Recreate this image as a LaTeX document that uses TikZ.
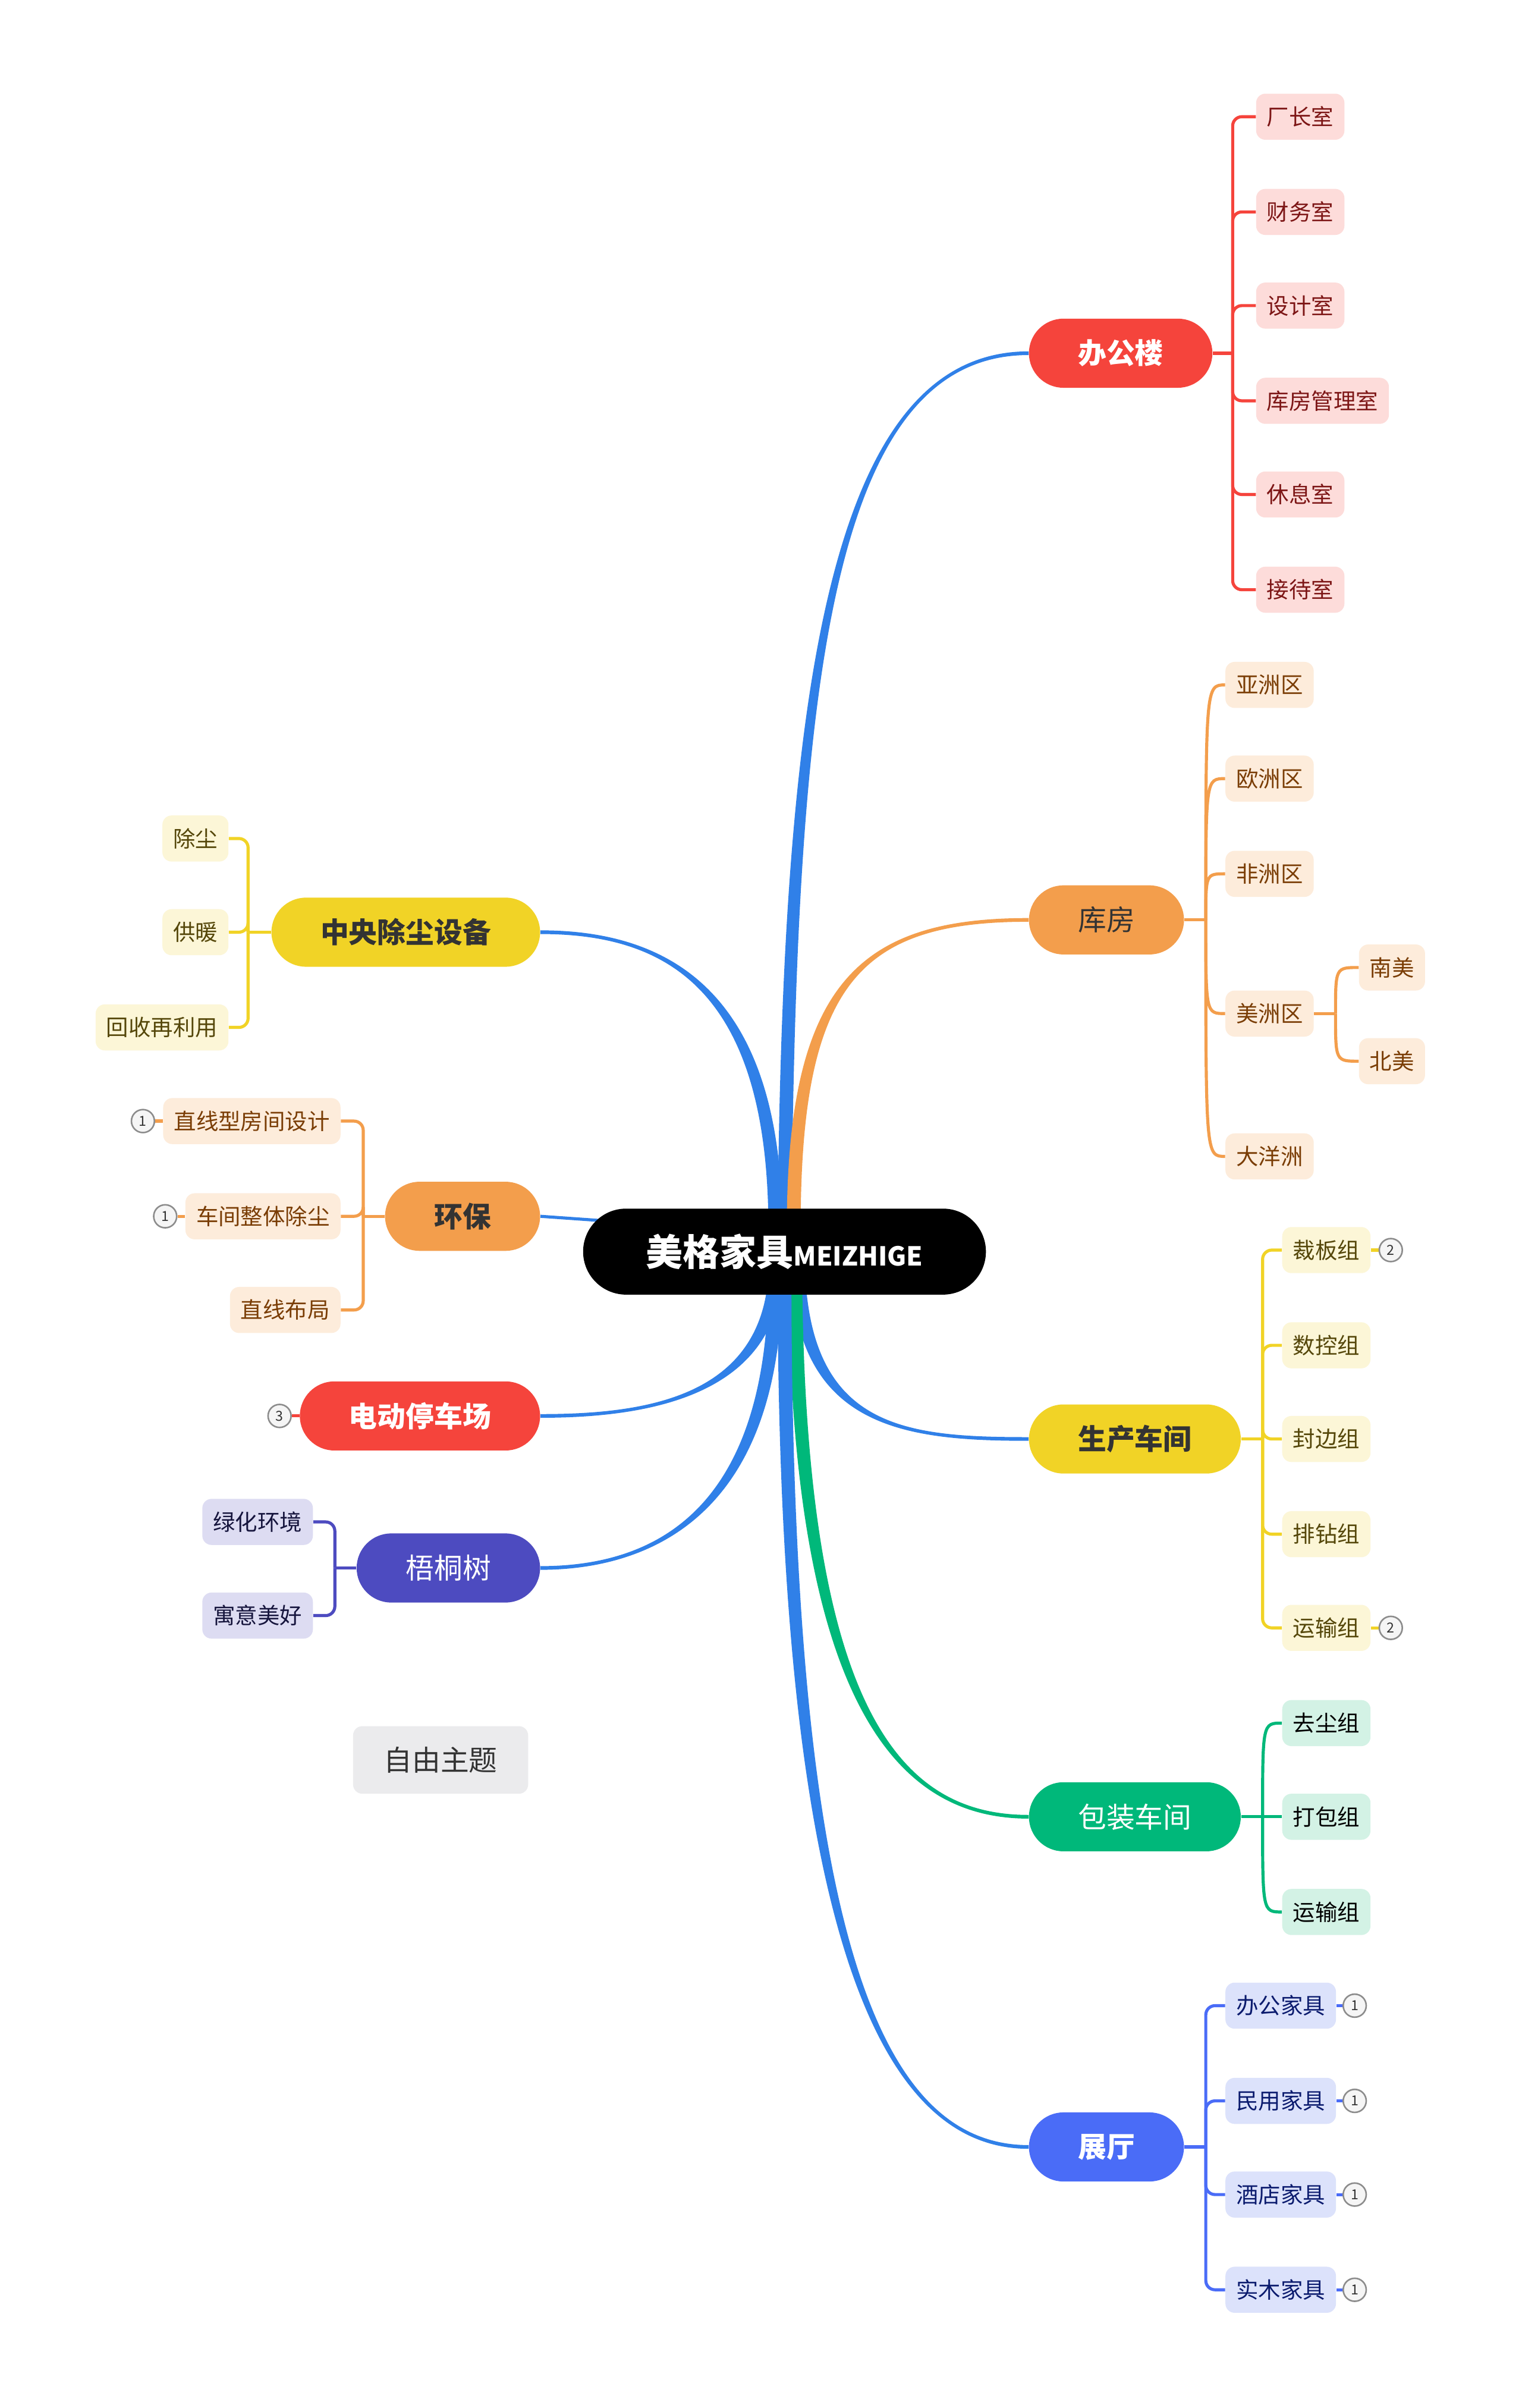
\documentclass[tikz,border=0pt]{standalone}
\usepackage{fontspec}
\setmainfont{Noto Sans CJK SC}
\usetikzlibrary{positioning,calc,backgrounds}

\definecolor{trunkblue}{HTML}{3080E8}
\definecolor{redmain}{HTML}{F5443C}
\definecolor{redleaf}{HTML}{FDDCDA}
\definecolor{redtext}{HTML}{7D1616}
\definecolor{orgmain}{HTML}{F39E4C}
\definecolor{orgleaf}{HTML}{FDECDB}
\definecolor{orgtext}{HTML}{7A3D05}
\definecolor{yelmain}{HTML}{F1D326}
\definecolor{yelleaf}{HTML}{FCF6D7}
\definecolor{yeltext}{HTML}{55470A}
\definecolor{grnmain}{HTML}{00B87A}
\definecolor{grnleaf}{HTML}{D3F2E5}
\definecolor{bluemain}{HTML}{4A6CF7}
\definecolor{blueleaf}{HTML}{DCE2FB}
\definecolor{bluetext}{HTML}{0B1B6E}
\definecolor{indmain}{HTML}{4D4BC0}
\definecolor{indleaf}{HTML}{DDDCF2}
\definecolor{indtext}{HTML}{16153D}
\definecolor{freegray}{HTML}{EBEBED}
\definecolor{darktext}{HTML}{333333}
\definecolor{badgegray}{HTML}{8C8C8C}

\tikzset{
  topic/.style={rounded corners=22.5pt, minimum height=45pt, inner xsep=32pt,
    inner ysep=0pt, font=\fontsize{18.5}{20}\selectfont},
  leaf/.style={rounded corners=6pt, minimum height=30pt, inner xsep=7pt,
    inner ysep=0pt, font=\fontsize{14.5}{16}\selectfont},
  badge/.style={circle, draw=badgegray, fill=white!96!black, line width=1pt,
    minimum size=15pt, inner sep=0pt, text=darktext, font=\fontsize{9}{10}\selectfont},
  link/.style={line width=2pt},
}

% tapered main branch: colour, start, control 1, control 2, end, side sign
\newcommand{\branch}[6]{%
  \fill[#1] ($#2+(-4.5,0)$) .. controls ($#3+(-4.5,0)$) and ($#4+(0,-#6*1.2)$)
    .. ($#5+(0,-#6*1.2)$) -- ($#5+(0,#6*1.2)$) .. controls ($#4+(0,#6*1.2)$)
    and ($#3+(4.5,0)$) .. ($#2+(4.5,0)$) -- cycle;}

\begin{document}
\begin{tikzpicture}[x=1pt,y=-1pt]
  \useasboundingbox (0,0) rectangle (991,1568);

  % centre
  \node[topic, fill=black, text=white, rounded corners=28pt, minimum height=56pt,
    inner xsep=41pt] (root) at (511,815)
    {\bfseries\fontsize{24}{26}\selectfont 美格家具{\fontsize{17}{18}\selectfont MEIZHIGE}};

  % right topics
  \node[topic, fill=redmain, text=white, anchor=west] (bgl) at (670,230) {\bfseries 办公楼};
  \node[topic, fill=orgmain, text=darktext, anchor=west] (kf) at (670,599) {库房};
  \node[topic, fill=yelmain, text=darktext, anchor=west] (sc) at (670,937) {\bfseries 生产车间};
  \node[topic, fill=grnmain, text=white, anchor=west] (bz) at (670,1183) {包装车间};
  \node[topic, fill=bluemain, text=white, anchor=west] (zt) at (670,1398) {\bfseries 展厅};

  % left topics
  \node[topic, fill=yelmain, text=darktext, anchor=east] (zy) at (352,607) {\bfseries 中央除尘设备};
  \node[topic, fill=orgmain, text=darktext, anchor=east] (hb) at (352,792) {\bfseries 环保};
  \node[topic, fill=redmain, text=white, anchor=east] (tc) at (352,922) {\bfseries 电动停车场};
  \node[topic, fill=indmain, text=white, anchor=east] (wt) at (352,1021) {梧桐树};

  \node[topic, fill=freegray, text=darktext, rounded corners=6pt, minimum height=44pt,
    inner xsep=20pt] (free) at (287,1146) {自由主题};

  % office leaves
  \node[leaf, fill=redleaf, text=redtext, anchor=west] (bgl1) at (818,76) {厂长室};
  \node[leaf, fill=redleaf, text=redtext, anchor=west] (bgl2) at (818,138) {财务室};
  \node[leaf, fill=redleaf, text=redtext, anchor=west] (bgl3) at (818,199) {设计室};
  \node[leaf, fill=redleaf, text=redtext, anchor=west] (bgl4) at (818,261) {库房管理室};
  \node[leaf, fill=redleaf, text=redtext, anchor=west] (bgl5) at (818,322) {休息室};
  \node[leaf, fill=redleaf, text=redtext, anchor=west] (bgl6) at (818,384) {接待室};

  % store leaves
  \node[leaf, fill=orgleaf, text=orgtext, anchor=west] (kf1) at (798,446) {亚洲区};
  \node[leaf, fill=orgleaf, text=orgtext, anchor=west] (kf2) at (798,507) {欧洲区};
  \node[leaf, fill=orgleaf, text=orgtext, anchor=west] (kf3) at (798,569) {非洲区};
  \node[leaf, fill=orgleaf, text=orgtext, anchor=west] (kf4) at (798,660) {美洲区};
  \node[leaf, fill=orgleaf, text=orgtext, anchor=west] (kf5) at (798,753) {大洋洲};
  \node[leaf, fill=orgleaf, text=orgtext, anchor=west] (kf41) at (885,630) {南美};
  \node[leaf, fill=orgleaf, text=orgtext, anchor=west] (kf42) at (885,691) {北美};

  % production leaves
  \node[leaf, fill=yelleaf, text=yeltext, anchor=west] (sc1) at (835,814) {裁板组};
  \node[leaf, fill=yelleaf, text=yeltext, anchor=west] (sc2) at (835,876) {数控组};
  \node[leaf, fill=yelleaf, text=yeltext, anchor=west] (sc3) at (835,937) {封边组};
  \node[leaf, fill=yelleaf, text=yeltext, anchor=west] (sc4) at (835,999) {排钻组};
  \node[leaf, fill=yelleaf, text=yeltext, anchor=west] (sc5) at (835,1060) {运输组};
  \node[badge, right=5pt of sc1] (sc1b) {2};
  \node[badge, right=5pt of sc5] (sc5b) {2};

  % packing leaves
  \node[leaf, fill=grnleaf, text=black, anchor=west] (bz1) at (835,1122) {去尘组};
  \node[leaf, fill=grnleaf, text=black, anchor=west] (bz2) at (835,1183) {打包组};
  \node[leaf, fill=grnleaf, text=black, anchor=west] (bz3) at (835,1245) {运输组};

  % showroom leaves
  \node[leaf, fill=blueleaf, text=bluetext, anchor=west] (zt1) at (798,1306) {办公家具};
  \node[leaf, fill=blueleaf, text=bluetext, anchor=west] (zt2) at (798,1368) {民用家具};
  \node[leaf, fill=blueleaf, text=bluetext, anchor=west] (zt3) at (798,1429) {酒店家具};
  \node[leaf, fill=blueleaf, text=bluetext, anchor=west] (zt4) at (798,1491) {实木家具};
  \node[badge, right=4pt of zt1] (zt1b) {1};
  \node[badge, right=4pt of zt2] (zt2b) {1};
  \node[badge, right=4pt of zt3] (zt3b) {1};
  \node[badge, right=4pt of zt4] (zt4b) {1};

  % dust leaves
  \node[leaf, fill=yelleaf, text=yeltext, anchor=east] (zy1) at (149,546) {除尘};
  \node[leaf, fill=yelleaf, text=yeltext, anchor=east] (zy2) at (149,607) {供暖};
  \node[leaf, fill=yelleaf, text=yeltext, anchor=east] (zy3) at (149,669) {回收再利用};

  % eco leaves
  \node[leaf, fill=orgleaf, text=orgtext, anchor=east] (hb1) at (222,730) {直线型房间设计};
  \node[leaf, fill=orgleaf, text=orgtext, anchor=east] (hb2) at (222,792) {车间整体除尘};
  \node[leaf, fill=orgleaf, text=orgtext, anchor=east] (hb3) at (222,853) {直线布局};
  \node[badge, left=5pt of hb1] (hb1b) {1};
  \node[badge, left=5pt of hb2] (hb2b) {1};
  \node[badge, left=5pt of tc] (tcb) {3};

  % tree leaves
  \node[leaf, fill=indleaf, text=indtext, anchor=east] (wt1) at (204,991) {绿化环境};
  \node[leaf, fill=indleaf, text=indtext, anchor=east] (wt2) at (204,1052) {寓意美好};

  \begin{scope}[on background layer]
    \fill[white] (0,0) rectangle (991,1568);

    % main branches
    \branch{trunkblue}{(511,800)}{(514,450)}{(540,230)}{(bgl.west)}{1}
    \branch{orgmain}{(517,800)}{(517,640)}{(560,599)}{(kf.west)}{1}
    \branch{trunkblue}{(520,830)}{(525,930)}{(590,937)}{(sc.west)}{-1}
    \branch{grnmain}{(518,830)}{(520,1120)}{(590,1183)}{(bz.west)}{-1}
    \branch{trunkblue}{(511,830)}{(511,1250)}{(570,1398)}{(zt.west)}{-1}
    \branch{trunkblue}{(505,800)}{(505,640)}{(430,607)}{(zy.east)}{-1}
    \branch{trunkblue}{(505,830)}{(500,910)}{(420,922)}{(tc.east)}{1}
    \branch{trunkblue}{(505,830)}{(505,990)}{(420,1021)}{(wt.east)}{1}
    \draw[trunkblue, line width=2pt] (hb.east) -- ($(root.west)+(15,-20)$);

    % office bracket
    \draw[link, redmain] (bgl.east) -- ++(13,0) coordinate (bglj);
    \draw[link, redmain, rounded corners=6pt] (bglj) |- (bgl1.west);
    \draw[link, redmain, rounded corners=6pt] (bglj) |- (bgl2.west);
    \draw[link, redmain, rounded corners=6pt] (bglj) |- (bgl3.west);
    \draw[link, redmain, rounded corners=6pt] (bglj) |- (bgl4.west);
    \draw[link, redmain, rounded corners=6pt] (bglj) |- (bgl5.west);
    \draw[link, redmain, rounded corners=6pt] (bglj) |- (bgl6.west);

    % store curves
    \draw[link, orgmain] (kf.east) -- ++(14,0) coordinate (kfj);
    \draw[link, orgmain] (kfj) .. controls (kfj |- kf1.west) .. (kf1.west);
    \draw[link, orgmain] (kfj) .. controls (kfj |- kf2.west) .. (kf2.west);
    \draw[link, orgmain] (kfj) .. controls (kfj |- kf3.west) .. (kf3.west);
    \draw[link, orgmain] (kfj) .. controls (kfj |- kf4.west) .. (kf4.west);
    \draw[link, orgmain] (kfj) .. controls (kfj |- kf5.west) .. (kf5.west);
    \draw[link, orgmain] (kf4.east) -- ++(14,0) coordinate (kf4j);
    \draw[link, orgmain] (kf4j) .. controls (kf4j |- kf41.west) .. (kf41.west);
    \draw[link, orgmain] (kf4j) .. controls (kf4j |- kf42.west) .. (kf42.west);

    % production bracket
    \draw[link, yelmain] (sc.east) -- ++(14,0) coordinate (scj);
    \draw[link, yelmain, rounded corners=6pt] (scj) |- (sc1.west);
    \draw[link, yelmain, rounded corners=6pt] (scj) |- (sc2.west);
    \draw[link, yelmain, rounded corners=6pt] (scj) |- (sc3.west);
    \draw[link, yelmain, rounded corners=6pt] (scj) |- (sc4.west);
    \draw[link, yelmain, rounded corners=6pt] (scj) |- (sc5.west);
    \draw[link, yelmain] (sc1.east) -- (sc1b.west);
    \draw[link, yelmain] (sc5.east) -- (sc5b.west);

    % packing curves
    \draw[link, grnmain] (bz.east) -- ++(14,0) coordinate (bzj);
    \draw[link, grnmain] (bzj) .. controls (bzj |- bz1.west) .. (bz1.west);
    \draw[link, grnmain] (bzj) -- (bz2.west);
    \draw[link, grnmain] (bzj) .. controls (bzj |- bz3.west) .. (bz3.west);

    % showroom bracket
    \draw[link, bluemain] (zt.east) -- ++(14,0) coordinate (ztj);
    \draw[link, bluemain, rounded corners=6pt] (ztj) |- (zt1.west);
    \draw[link, bluemain, rounded corners=6pt] (ztj) |- (zt2.west);
    \draw[link, bluemain, rounded corners=6pt] (ztj) |- (zt3.west);
    \draw[link, bluemain, rounded corners=6pt] (ztj) |- (zt4.west);
    \draw[link, bluemain] (zt1.east) -- (zt1b.west);
    \draw[link, bluemain] (zt2.east) -- (zt2b.west);
    \draw[link, bluemain] (zt3.east) -- (zt3b.west);
    \draw[link, bluemain] (zt4.east) -- (zt4b.west);

    % dust bracket
    \draw[link, yelmain] (zy.west) -- ++(-15,0) coordinate (zyj);
    \draw[link, yelmain, rounded corners=6pt] (zyj) |- (zy1.east);
    \draw[link, yelmain, rounded corners=6pt] (zyj) |- (zy2.east);
    \draw[link, yelmain, rounded corners=6pt] (zyj) |- (zy3.east);

    % eco bracket
    \draw[link, orgmain] (hb.west) -- ++(-14,0) coordinate (hbj);
    \draw[link, orgmain, rounded corners=6pt] (hbj) |- (hb1.east);
    \draw[link, orgmain, rounded corners=6pt] (hbj) |- (hb2.east);
    \draw[link, orgmain, rounded corners=6pt] (hbj) |- (hb3.east);
    \draw[link, orgmain] (hb1.west) -- (hb1b.east);
    \draw[link, orgmain] (hb2.west) -- (hb2b.east);
    \draw[link, redmain] (tc.west) -- (tcb.east);

    % tree bracket
    \draw[link, indmain] (wt.west) -- ++(-14,0) coordinate (wtj);
    \draw[link, indmain, rounded corners=6pt] (wtj) |- (wt1.east);
    \draw[link, indmain, rounded corners=6pt] (wtj) |- (wt2.east);
  \end{scope}
\end{tikzpicture}
\end{document}
